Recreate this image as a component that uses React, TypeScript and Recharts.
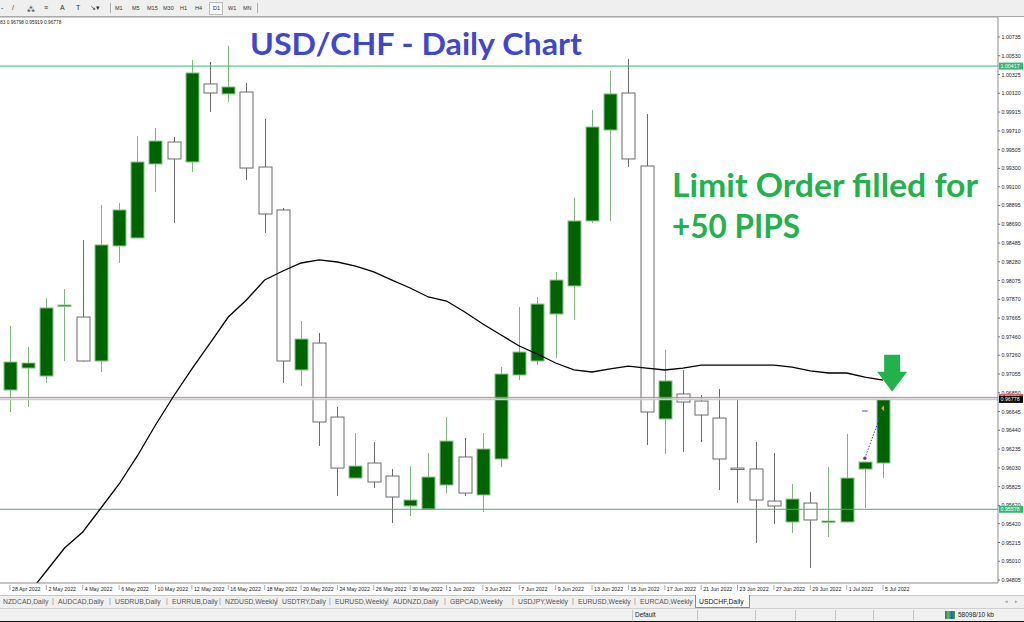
import React from "react";
import {
  ComposedChart,
  Bar,
  Line,
  XAxis,
  YAxis,
  ReferenceLine,
  ReferenceDot,
} from "recharts";

const dates = [
  "28 Apr 2022", "29 Apr 2022", "2 May 2022", "3 May 2022", "4 May 2022", "5 May 2022", "6 May 2022",
  "9 May 2022", "10 May 2022", "11 May 2022", "12 May 2022", "13 May 2022", "16 May 2022", "17 May 2022",
  "18 May 2022", "19 May 2022", "20 May 2022", "23 May 2022", "24 May 2022", "25 May 2022", "26 May 2022",
  "27 May 2022", "30 May 2022", "31 May 2022", "1 Jun 2022", "2 Jun 2022", "3 Jun 2022", "6 Jun 2022",
  "7 Jun 2022", "8 Jun 2022", "9 Jun 2022", "10 Jun 2022", "13 Jun 2022", "14 Jun 2022", "15 Jun 2022",
  "16 Jun 2022", "17 Jun 2022", "20 Jun 2022", "21 Jun 2022", "22 Jun 2022", "23 Jun 2022", "24 Jun 2022",
  "27 Jun 2022", "28 Jun 2022", "29 Jun 2022", "30 Jun 2022", "1 Jul 2022", "4 Jul 2022", "5 Jul 2022",
];

const opens = [
  0.9688, 0.9712, 0.97033, 0.97798, 0.97677, 0.97197, 0.98453, 0.9854, 0.99348, 0.99588,
  0.9937, 1.00222, 1.00113, 1.00134, 0.99315, 0.98846, 0.97099, 0.97393, 0.96585, 0.95919,
  0.96083, 0.95941, 0.95614, 0.95581, 0.95843, 0.96149, 0.95734, 0.96127, 0.97044, 0.97197,
  0.9771, 0.98016, 0.98726, 0.99719, 1.00123, 0.99326, 0.96564, 0.96837, 0.9676, 0.96574,
  0.96028, 0.96018, 0.95668, 0.95439, 0.95646, 0.95445, 0.95439, 0.96017, 0.96083,
];
const highs = [
  0.97579, 0.9735, 0.97885, 0.97983, 0.98518, 0.989, 0.98922, 0.99654, 0.99741, 0.99643,
  1.00484, 1.00462, 1.00637, 1.00233, 0.9984, 0.98868, 0.97634, 0.97503, 0.96695, 0.96411,
  0.96312, 0.96018, 0.9605, 0.96192, 0.96585, 0.96356, 0.96411, 0.97131, 0.97787, 0.97896,
  0.98169, 0.98977, 0.99938, 1.00364, 1.00495, 0.99894, 0.97317, 0.97099, 0.96826, 0.96891,
  0.96771, 0.96312, 0.96192, 0.95854, 0.95766, 0.96039, 0.964, 0.961, 0.96798,
];
const lows = [
  0.9664, 0.96695, 0.96957, 0.97197, 0.9719, 0.97077, 0.98267, 0.98535, 0.99042, 0.98704,
  0.99261, 0.99916, 1.00025, 0.99173, 0.98595, 0.96957, 0.96924, 0.96269, 0.95723, 0.95915,
  0.9581, 0.95428, 0.95504, 0.95578, 0.95755, 0.95723, 0.95548, 0.96039, 0.96989, 0.97153,
  0.9723, 0.97645, 0.98704, 0.98726, 0.99315, 0.9628, 0.96181, 0.96203, 0.96312, 0.95788,
  0.95646, 0.95209, 0.95417, 0.95319, 0.94936, 0.95275, 0.95435, 0.95592, 0.95919,
];
const closes = [
  0.97186, 0.97175, 0.97776, 0.97808, 0.97197, 0.98464, 0.98846, 0.9937, 0.99599, 0.99403,
  1.00342, 1.00123, 1.00189, 0.99304, 0.98802, 0.97197, 0.97437, 0.96531, 0.96028, 0.9605,
  0.95876, 0.95712, 0.95679, 0.9593, 0.96323, 0.95755, 0.96236, 0.97055, 0.97295, 0.97819,
  0.98081, 0.98726, 0.99752, 1.00113, 0.99403, 0.9664, 0.96979, 0.96749, 0.96607, 0.96127,
  0.96017, 0.95679, 0.95614, 0.9569, 0.95461, 0.9545, 0.95919, 0.96094, 0.96778,
];
const movingAvg = [
  0.94402, 0.94653, 0.94904, 0.95155, 0.9533, 0.95592, 0.95854, 0.9616, 0.96498, 0.96815,
  0.9711, 0.97393, 0.97677, 0.97863, 0.98081, 0.9818, 0.98267, 0.983, 0.98278, 0.98234,
  0.98169, 0.98081, 0.97994, 0.97896, 0.97852, 0.97732, 0.97601, 0.97481, 0.97361, 0.97273,
  0.97175, 0.97099, 0.97077, 0.9711, 0.97142, 0.9712, 0.97099, 0.9712, 0.97153, 0.97153,
  0.97153, 0.97153, 0.97153, 0.97131, 0.97088, 0.97066, 0.97066, 0.97022, 0.96989,
];

const priceTicks = [
  1.00735, 1.0053, 1.00325, 1.0012, 0.99915, 0.9971, 0.99505, 0.993, 0.991, 0.98895,
  0.9869, 0.98485, 0.9828, 0.98075, 0.9787, 0.97665, 0.9746, 0.9726, 0.97055, 0.9685,
  0.96645, 0.9644, 0.96235, 0.9603, 0.95825, 0.9562, 0.9542, 0.95215, 0.9501, 0.94805,
];

// levels drawn as lines with a coloured price tag
const levels = [
  { value: 1.00417, line: "#3cb371", tag: "#3cb371" },
  { value: 0.95578, line: "#3cb371", tag: "#3cb371" },
  { value: 0.968, line: "#ee7777", tag: "#e05a5a" },
  { value: 0.96778, line: "#c9d0d8", tag: "#000000" },
];

const timeframes = ["M1", "M5", "M15", "M30", "H1", "H4", "D1", "W1", "MN"];
const tabs = [
  "NZDCAD,Daily", "AUDCAD,Daily", "USDRUB,Daily", "EURRUB,Daily", "NZDUSD,Weekly", "USDTRY,Daily",
  "EURUSD,Weekly", "AUDNZD,Daily", "GBPCAD,Weekly", "USDJPY,Weekly", "EURUSD,Weekly", "EURCAD,Weekly",
  "USDCHF,Daily",
];

const data = dates.map((date, i) => ({
  idx: i + 1,
  date,
  open: opens[i],
  high: highs[i],
  low: lows[i],
  close: closes[i],
  ma: movingAvg[i],
}));
const dateTicks = data.filter((_, i) => i % 2 === 0).map((d) => d.idx);
const allPriceTicks = [...priceTicks, ...levels.map((l) => l.value)];

const UI_FONT = "'Liberation Sans', Arial, sans-serif";
const BULL = "#006400";

function Candle(props: any) {
  const { x, y, width, height, payload } = props;
  if (!payload) return null;
  const { open, close, high, low } = payload;
  const top = Math.min(y, y + height);
  const h = Math.abs(height);
  const k = high > low ? h / (high - low) : 0;
  const yOf = (v: number) => top + (high - v) * k;
  const cx = Math.round(x + width / 2) + 0.5;
  const up = close >= open;
  const bTop = yOf(Math.max(open, close));
  const bBot = yOf(Math.min(open, close));
  const bh = Math.max(bBot - bTop, 1.5);
  return (
    <g>
      <line x1={cx} x2={cx} y1={top} y2={top + h} stroke={up ? "#7fb77f" : "#6b6b6b"} strokeWidth={1} />
      <rect
        x={cx - 6.5}
        y={bTop}
        width={13}
        height={bh}
        fill={up ? BULL : "#ffffff"}
        stroke={up ? "#8cc48c" : "#6b6b6b"}
        strokeWidth={1}
      />
    </g>
  );
}

function DateTick(props: any) {
  const { x, y, payload } = props;
  const label = dates[payload.value - 1];
  return (
    <g>
      <line x1={x} x2={x} y1={y + 2} y2={y + 7} stroke="#777" strokeWidth={0.6} />
      <text x={x + 2} y={y + 7.5} fontSize={5.3} fontFamily={UI_FONT} fill="#222">
        {label}
      </text>
    </g>
  );
}

function PriceTick(props: any) {
  const { x, y, payload } = props;
  const v = payload.value as number;
  const lvl = levels.find((l) => Math.abs(l.value - v) < 1e-7);
  if (lvl) {
    return (
      <g>
        <rect x={x + 1} y={y - 3.5} width={24} height={7} fill={lvl.tag} />
        <text x={x + 2.5} y={y + 2} fontSize={5.3} fontFamily={UI_FONT} fill="#fff">
          {v.toFixed(5)}
        </text>
      </g>
    );
  }
  return (
    <g>
      <line x1={x} x2={x + 2} y1={y} y2={y} stroke="#555" strokeWidth={0.8} />
      <text x={x + 3.5} y={y + 2} fontSize={5.3} fontFamily={UI_FONT} fill="#222">
        {v.toFixed(5)}
      </text>
    </g>
  );
}

function DownArrow(props: any) {
  const { cx, cy } = props;
  const d = `M${cx} ${cy} L${cx - 15} ${cy - 20} L${cx - 8} ${cy - 20} L${cx - 8} ${cy - 37} L${cx + 8} ${cy - 37} L${cx + 8} ${cy - 20} L${cx + 15} ${cy - 20} Z`;
  return <path d={d} fill="#22b14c" />;
}

function Toolbar() {
  const tfX = [115, 132, 147, 163, 180, 195, 213, 228, 243];
  return (
    <div
      style={{
        position: "absolute",
        left: 0,
        top: 0,
        width: 1024,
        height: 16,
        background: "#efefef",
        borderBottom: "1px solid #a9a9a9",
        fontFamily: UI_FONT,
        fontSize: 5.5,
        color: "#333",
      }}
    >
      {[
        { t: "-", x: 1 },
        { t: "/", x: 12 },
        { t: "⁂", x: 27 },
        { t: "≡", x: 44 },
        { t: "A", x: 60 },
        { t: "T", x: 76 },
        { t: "↘▾", x: 90 },
      ].map((it) => (
        <span key={it.x} style={{ position: "absolute", left: it.x, top: 4, fontSize: 7 }}>
          {it.t}
        </span>
      ))}
      <div style={{ position: "absolute", left: 110, top: 3, width: 1, height: 10, background: "#b0b0b0" }} />
      <div style={{ position: "absolute", left: 257, top: 3, width: 1, height: 10, background: "#b0b0b0" }} />
      <div
        style={{ position: "absolute", left: 209, top: 2, width: 12, height: 11, border: "1px solid #bdbdbd", background: "#f8f8f8" }}
      />
      {timeframes.map((t, i) => (
        <span key={t} style={{ position: "absolute", left: tfX[i], top: 5 }}>
          {t}
        </span>
      ))}
    </div>
  );
}

function Tabs() {
  const tabX = [3, 58, 115, 172, 225, 282, 335, 393, 450, 518, 578, 640, 699];
  return (
    <div
      style={{
        position: "absolute",
        left: 0,
        top: 595,
        width: 1024,
        height: 12,
        background: "#f0f0f0",
        borderTop: "1px solid #c8c8c8",
        fontFamily: UI_FONT,
        fontSize: 6.8,
        color: "#444",
      }}
    >
      <div
        style={{ position: "absolute", left: 695, top: -1, width: 53, height: 12, background: "#fff", border: "1px solid #8a8a8a", borderTop: "none" }}
      />
      {tabs.map((t, i) => (
        <span key={i} style={{ position: "absolute", left: tabX[i], top: 2, color: i === tabs.length - 1 ? "#111" : "#555" }}>
          {t}
        </span>
      ))}
      {tabX.slice(1, -1).map((x, i) => (
        <span key={"s" + i} style={{ position: "absolute", left: x - 6, top: 1, color: "#888" }}>
          |
        </span>
      ))}
      <span style={{ position: "absolute", left: 1005, top: 2, fontSize: 5, color: "#999" }}>◂</span>
      <span style={{ position: "absolute", left: 1015, top: 2, fontSize: 5, color: "#999" }}>▸</span>
    </div>
  );
}

function StatusBar() {
  const seps = [632, 697, 755, 795, 835, 873, 913];
  return (
    <div
      style={{
        position: "absolute",
        left: 0,
        top: 608,
        width: 1024,
        height: 12,
        background: "#f0f0f0",
        borderTop: "1px solid #d0d0d0",
        borderBottom: "2px solid #111",
        fontFamily: UI_FONT,
        fontSize: 6.5,
        color: "#222",
      }}
    >
      {seps.map((x) => (
        <div key={x} style={{ position: "absolute", left: x, top: 1, width: 1, height: 10, background: "#c4c4c4" }} />
      ))}
      <span style={{ position: "absolute", left: 635, top: 2 }}>Default</span>
      <div style={{ position: "absolute", left: 945, top: 2, width: 10, height: 8, background: "linear-gradient(90deg,#2e7d32,#66bb6a,#1565c0,#43a047)" }} />
      <span style={{ position: "absolute", left: 958, top: 2 }}>58098/10 kb</span>
    </div>
  );
}

export default function App() {
  return (
    <div style={{ position: "relative", width: 1024, height: 622, overflow: "hidden", background: "#fff" }}>
      <style>{"body{margin:0;}"}</style>
      <Toolbar />
      <div style={{ position: "absolute", left: 0, top: 17 }}>
        <ComposedChart width={1024} height={578} data={data} margin={{ top: 0, right: 0, bottom: 0, left: 0 }}>
          <XAxis
            dataKey="idx"
            type="number"
            domain={[0.45, 55.32]}
            allowDataOverflow
            ticks={dateTicks}
            interval={0}
            height={12}
            tickSize={0}
            tickMargin={0}
            tickLine={false}
            axisLine={{ stroke: "#8c8c8c" }}
            tick={<DateTick />}
          />
          <YAxis
            orientation="right"
            width={26}
            domain={[0.94773, 1.00953]}
            allowDataOverflow
            ticks={allPriceTicks}
            interval={0}
            tickSize={0}
            tickMargin={0}
            tickLine={false}
            axisLine={{ stroke: "#8c8c8c" }}
            tick={<PriceTick />}
          />
          <ReferenceLine y={1.00953} stroke="#a0a0a0" />
          {levels.map((l) => (
            <ReferenceLine
              key={l.value}
              y={l.value}
              stroke={l.line}
              strokeWidth={l.value === 0.96778 ? 2 : 1}
            />
          ))}
          <Bar
            dataKey={(d: any) => [d.low, d.high]}
            barSize={14}
            shape={<Candle />}
            isAnimationActive={false}
          />
          <Line
            type="linear"
            dataKey="ma"
            stroke="#000"
            strokeWidth={1.3}
            dot={false}
            isAnimationActive={false}
          />
          <ReferenceLine
            segment={[
              { x: 48, y: 0.96135 },
              { x: 49, y: 0.9668 },
            ]}
            stroke="#3344ee"
            strokeDasharray="1.5 1.5"
          />
          <ReferenceLine
            segment={[
              { x: 47.85, y: 0.96651 },
              { x: 48.15, y: 0.96651 },
            ]}
            stroke="#3344ee"
          />
          <ReferenceDot x={48} y={0.96135} r={1.5} fill="#2233dd" stroke="#e04040" strokeWidth={0.6} />
          <ReferenceDot
            x={49}
            y={0.9668}
            shape={(p: any) => (
              <path d={`M${p.cx - 2} ${p.cy} L${p.cx + 1} ${p.cy - 3} L${p.cx + 1} ${p.cy + 3} Z`} fill="#e0a020" />
            )}
          />
          <ReferenceDot x={49.5} y={0.9686} shape={<DownArrow />} />
        </ComposedChart>
      </div>
      <svg
        width={1024}
        height={622}
        style={{ position: "absolute", left: 0, top: 0, pointerEvents: "none" }}
      >
        <text x={0} y={24} fontSize={4.8} fontFamily={UI_FONT} fill="#222">
          83 0.96798 0.95919 0.96778
        </text>
        <text
          x={250}
          y={55}
          fontSize={31}
          fontWeight={700}
          fontFamily="Lato, 'Open Sans', sans-serif"
          fill="#3f48cc"
          textLength={332}
          lengthAdjust="spacingAndGlyphs"
        >
          USD/CHF - Daily Chart
        </text>
        <text
          x={672}
          y={197}
          fontSize={33}
          fontWeight={700}
          fontFamily="Lato, 'Open Sans', sans-serif"
          fill="#22b14c"
          textLength={306}
          lengthAdjust="spacingAndGlyphs"
        >
          Limit Order filled for
        </text>
        <text
          x={672}
          y={238}
          fontSize={33}
          fontWeight={700}
          fontFamily="Lato, 'Open Sans', sans-serif"
          fill="#22b14c"
          textLength={128}
          lengthAdjust="spacingAndGlyphs"
        >
          +50 PIPS
        </text>
      </svg>
      <Tabs />
      <StatusBar />
    </div>
  );
}
